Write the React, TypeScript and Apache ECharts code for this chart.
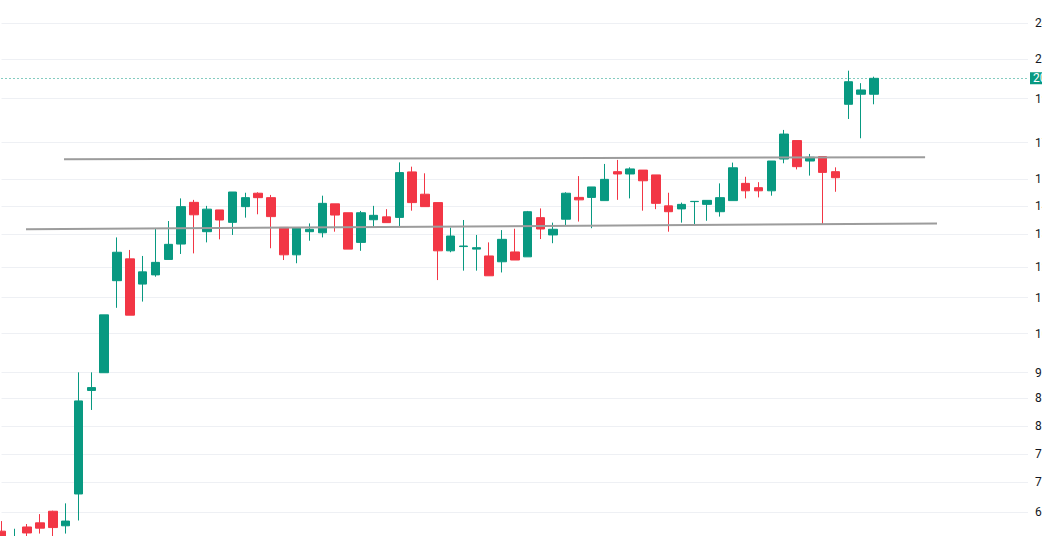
import React, { useEffect, useRef } from "react";
import * as echarts from "echarts";

// OHLC (price units)
const opens = [6.22, 5.95, 6.29, 6.36, 6.56, 6.31, 6.87, 9.06, 9.5, 12.15, 12.88, 12.04, 12.34, 12.86, 13.4, 14.98, 13.85, 14.68, 14.2, 14.81, 15.35, 15.17, 14.01, 13.02, 13.85, 13.81, 14.92, 14.57, 13.46, 14.3, 14.41, 14.39, 16.25, 15.31, 14.97, 13.16, 13.31, 13.22, 12.98, 12.78, 13.12, 12.95, 14.38, 13.73, 14.32, 15.18, 15.18, 15.05, 16.26, 16.16, 16.33, 16.12, 14.84, 14.72, 15.01, 14.9, 14.61, 15.05, 15.76, 15.58, 15.45, 16.82, 17.67, 16.73, 16.93, 16.26, 19.47, 20.0, 20.0];
const closes = [6.07, 6.11, 6.19, 6.27, 6.28, 6.39, 8.81, 9.13, 11.09, 13.11, 11.08, 12.44, 12.76, 13.39, 14.81, 14.49, 14.71, 14.29, 15.4, 15.17, 15.17, 14.42, 13.02, 14.0, 13.94, 14.94, 14.48, 13.22, 14.57, 14.47, 14.19, 16.22, 14.97, 14.81, 13.16, 13.69, 13.33, 13.27, 12.31, 13.57, 12.84, 14.61, 13.95, 13.94, 15.35, 15.08, 15.61, 15.93, 16.16, 16.38, 15.87, 14.94, 14.61, 14.9, 15.02, 15.06, 15.17, 16.43, 15.45, 15.45, 16.73, 17.98, 16.48, 16.9, 16.23, 16.0, 20.68, 20.23, 20.87];
const lows = [5.95, 5.88, 6.14, 6.18, 6.11, 6.18, 6.4, 8.6, 9.5, 11.3, 11.08, 11.49, 12.28, 12.86, 13.05, 13.07, 13.46, 13.57, 13.73, 14.38, 14.51, 13.25, 12.84, 12.73, 13.52, 13.64, 13.85, 13.22, 13.16, 14.01, 14.19, 14.04, 14.65, 14.81, 12.17, 13.11, 12.48, 12.48, 12.31, 12.42, 12.84, 12.95, 13.58, 13.43, 14.1, 14.23, 13.98, 15.05, 15.08, 15.14, 14.65, 14.71, 13.85, 14.19, 14.1, 14.26, 14.42, 15.05, 15.14, 15.18, 15.25, 16.63, 16.36, 16.09, 14.14, 15.41, 18.72, 17.78, 19.47];
const highs = [6.39, 6.26, 6.34, 6.51, 6.57, 6.7, 9.51, 9.51, 11.09, 13.64, 13.19, 12.98, 13.98, 14.25, 15.14, 15.08, 14.84, 14.68, 15.4, 15.37, 15.39, 15.28, 14.01, 14.0, 14.16, 15.25, 14.92, 14.57, 14.64, 14.84, 14.71, 16.67, 16.48, 16.19, 14.97, 14.0, 14.29, 13.73, 13.46, 13.91, 13.96, 14.64, 14.74, 14.19, 15.39, 16.07, 15.61, 16.6, 16.78, 16.45, 16.33, 16.12, 15.37, 14.97, 15.02, 15.06, 15.76, 16.66, 16.04, 15.81, 16.73, 18.18, 17.67, 17.05, 16.93, 16.45, 21.3, 20.6, 20.96];

// price-scale tick labels (log scale)
const priceTicks = [24.18, 21.96, 19.77, 17.57, 15.95, 14.84, 13.77, 12.61, 11.61, 10.55, 9.5, 8.87, 8.24, 7.64, 7.09, 6.55];

// drawn trendlines: [bar index, price]
const upperTrend = [[4.87, 16.81], [71.98, 16.9]];
const lowerTrend = [[1.91, 13.94], [72.91, 14.16]];

const TOTAL_SLOTS = 81;
const categories = Array.from({ length: TOTAL_SLOTS }, (_, i) => `Bar ${i + 1}`);

const UP = "#089981";
const DOWN = "#f23645";

export default function App() {
  const ref = useRef<HTMLDivElement>(null);

  useEffect(() => {
    document.body.style.margin = "0";
    if (!ref.current) return;
    const chart = echarts.init(ref.current, undefined, { renderer: "svg" });
    const ohlc = opens.map((o, i) => [o, closes[i], lows[i], highs[i]]);
    const last = closes[closes.length - 1];

    chart.setOption({
      animation: false,
      backgroundColor: "#ffffff",
      grid: { left: 1.5, right: 14, top: 0, bottom: 0, containLabel: false },
      xAxis: [
        {
          type: "category",
          data: categories,
          boundaryGap: false,
          show: false,
        },
        {
          type: "value",
          min: 0,
          max: TOTAL_SLOTS - 1,
          show: false,
        },
      ],
      yAxis: {
        type: "log",
        logBase: 10,
        min: 6.14,
        max: 25.73,
        show: false,
        splitLine: { show: false },
      },
      series: [
        {
          type: "line",
          data: [],
          silent: true,
          z: 1,
          markLine: {
            silent: true,
            z: 1,
            symbol: ["none", "none"],
            lineStyle: { color: "#eef0f4", width: 1, type: "solid" },
            label: {
              show: true,
              position: "end",
              distance: 7,
              color: "#131722",
              fontSize: 12,
              fontFamily: "Roboto, 'Noto Sans', sans-serif",
              formatter: (p: any) => Number(p.value).toFixed(2),
            },
            data: priceTicks.map((v) => ({ yAxis: v })),
          },
        },
        {
          type: "line",
          data: [],
          silent: true,
          z: 2,
          markLine: {
            silent: true,
            z: 2,
            symbol: ["none", "none"],
            lineStyle: { color: UP, width: 1, type: [1, 3] },
            label: {
              show: true,
              position: "end",
              distance: 2,
              color: "#ffffff",
              backgroundColor: UP,
              padding: [0, 3, 0, 3],
              lineHeight: 12,
              fontSize: 12,
              fontFamily: "Roboto, 'Noto Sans', sans-serif",
              formatter: () => last.toFixed(2),
            },
            data: [{ yAxis: last }],
          },
        },
        {
          type: "candlestick",
          data: ohlc,
          barWidth: 9,
          clip: false,
          silent: true,
          z: 3,
          itemStyle: {
            color: UP,
            color0: DOWN,
            borderColor: UP,
            borderColor0: DOWN,
            borderWidth: 1,
          },
        },
        {
          type: "line",
          xAxisIndex: 1,
          data: upperTrend,
          showSymbol: false,
          silent: true,
          z: 4,
          lineStyle: { color: "#9c9c9c", width: 2 },
        },
        {
          type: "line",
          xAxisIndex: 1,
          data: lowerTrend,
          showSymbol: false,
          silent: true,
          z: 4,
          lineStyle: { color: "#9c9c9c", width: 2 },
        },
      ],
    });

    return () => chart.dispose();
  }, []);

  return <div ref={ref} style={{ width: 1042, height: 536 }} />;
}
